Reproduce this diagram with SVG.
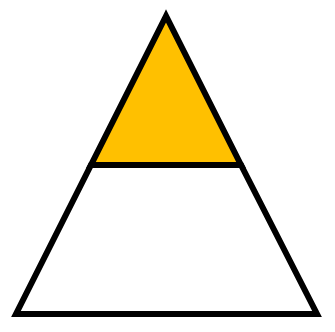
<svg xmlns="http://www.w3.org/2000/svg" width="335" height="332" viewBox="0 0 335 332">
<style>.s{stroke:#000;stroke-width:6;stroke-linejoin:miter;stroke-miterlimit:10}</style>
<rect width="335" height="332" fill="#fff"/>
<g id="top"><polygon class="s" points="166,16 91,165 241,165" fill="#FFC000"/></g>
<g id="bottom"><polygon class="s" points="91,165 241,165 317,314 16,314" fill="#fff"/></g>
</svg>
